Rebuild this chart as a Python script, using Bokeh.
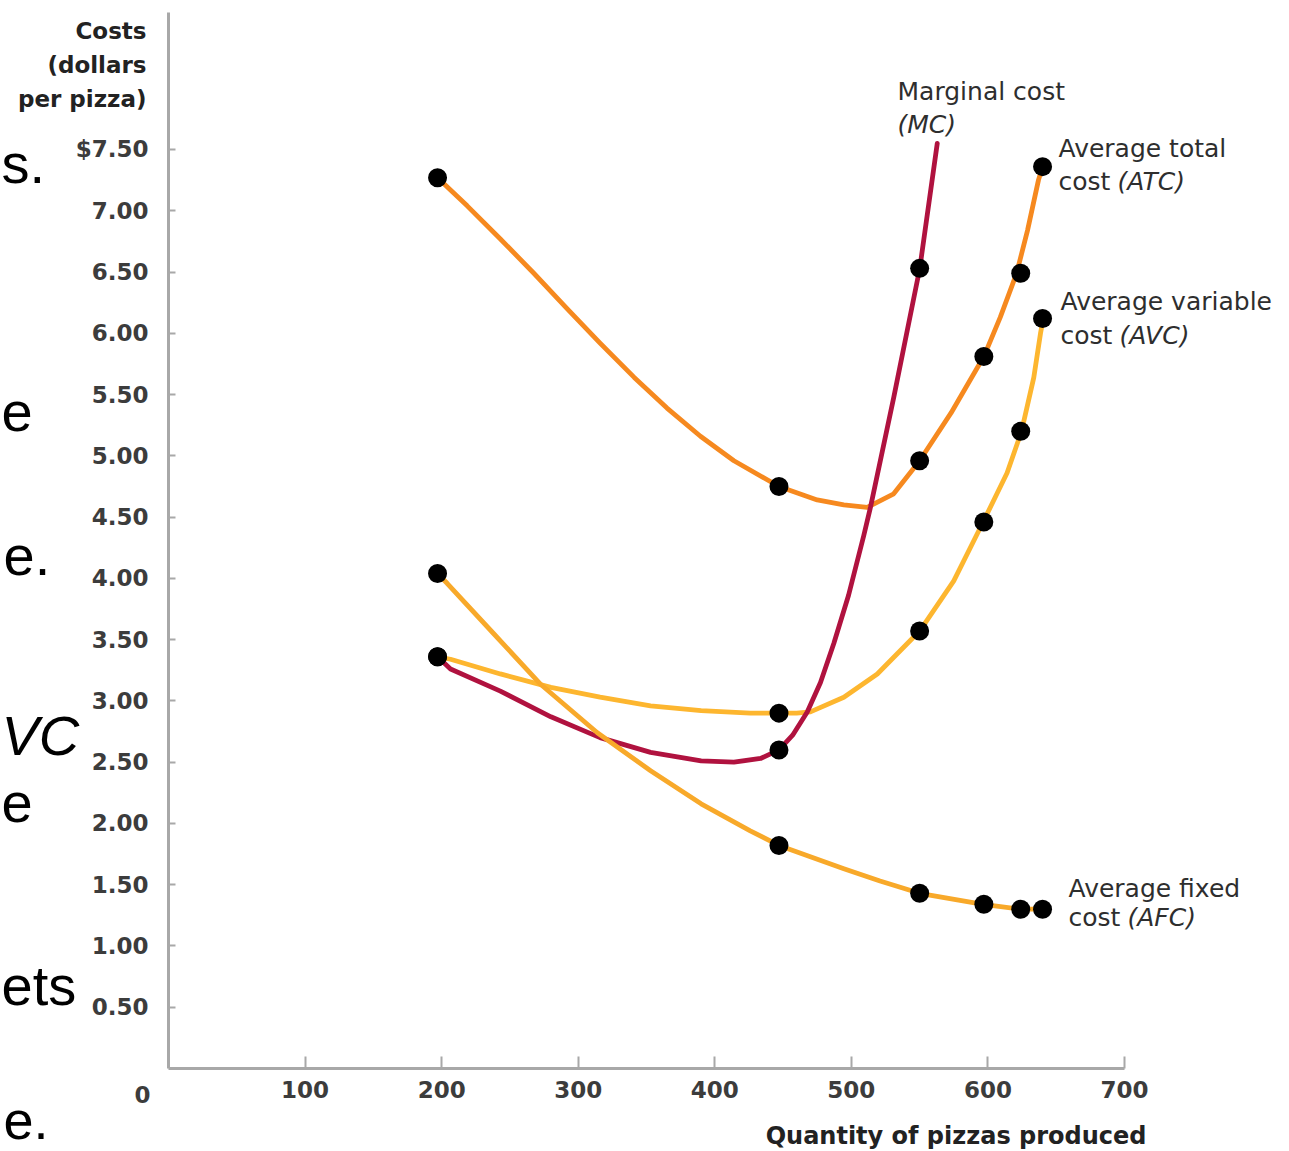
from bokeh.plotting import figure
from bokeh.models import Range1d, FixedTicker, Label, CustomJSTickFormatter, LinearAxis
from bokeh.embed import file_html
from bokeh.resources import INLINE

# ---------------- data ----------------
q_points = [197, 447, 550, 597, 624, 640]
atc_points = [7.27, 4.75, 4.96, 5.81, 6.49, 7.36]
avc_points = [3.36, 2.90, 3.57, 4.46, 5.20, 6.12]
afc_points = [4.04, 1.82, 1.43, 1.34, 1.30, 1.30]
mc_q_points = [197, 447, 550]
mc_points = [3.36, 2.60, 6.53]

atc_curve_q = [197, 218.7, 243, 267.5, 292, 316, 341, 365, 389.5, 414, 447, 475, 494.5, 511.6,
               531, 550, 573, 597, 609, 621, 629, 637, 640]
atc_curve = [7.27, 7.04, 6.77, 6.49, 6.20, 5.92, 5.64, 5.39, 5.16, 4.96, 4.75, 4.64, 4.60, 4.58,
             4.69, 4.96, 5.35, 5.81, 6.13, 6.49, 6.84, 7.25, 7.36]

avc_curve_q = [197, 206.5, 243, 280, 316, 353, 390, 426, 447, 460, 470, 494.5, 519, 550, 575, 596.5,
               614, 624.6, 633.6, 638.5, 640.5]
avc_curve = [3.36, 3.34, 3.22, 3.11, 3.03, 2.96, 2.92, 2.90, 2.90, 2.90, 2.91, 3.03, 3.22, 3.57, 3.98, 4.46,
             4.86, 5.20, 5.64, 6.00, 6.12]

mc_curve_q = [197, 206.5, 243, 280, 316, 353, 390, 414, 433.5, 447, 457, 467.7, 477.4, 487.2, 497.9,
              509.1, 514, 531.1, 550.1, 562.9]
mc_curve = [3.36, 3.26, 3.08, 2.87, 2.70, 2.58, 2.51, 2.50, 2.53, 2.60, 2.72, 2.91, 3.15, 3.47, 3.86,
            4.35, 4.58, 5.48, 6.53, 7.55]

afc_curve_q = [197, 204, 238, 272, 314, 353, 390, 426, 447, 494.5, 521, 550, 596.5, 624, 640.5]
afc_curve = [4.04, 3.96, 3.55, 3.14, 2.74, 2.43, 2.16, 1.94, 1.82, 1.63, 1.53, 1.43, 1.34, 1.30, 1.30]

x_ticks = [100, 200, 300, 400, 500, 600, 700]
y_ticks = [0.5, 1.0, 1.5, 2.0, 2.5, 3.0, 3.5, 4.0, 4.5, 5.0, 5.5, 6.0, 6.5, 7.0, 7.5]
X_AXIS_END = 700
Y_AXIS_END = 8.618

# ---------------- layout (pixels) ----------------
W, H = 1289, 1151
ORIGIN_PX, ORIGIN_PY = 168, 1068      # where the two axes meet
AXIS_RIGHT_PX, AXIS_TOP_PY = 1124, 12
PPX = (AXIS_RIGHT_PX - ORIGIN_PX) / X_AXIS_END
PPY = (ORIGIN_PY - AXIS_TOP_PY) / Y_AXIS_END


def dx(px):
    return (px - ORIGIN_PX) / PPX


def dy(py):
    return (ORIGIN_PY - py) / PPY


p = figure(width=W, height=H,
           x_range=Range1d(dx(0), dx(W)), y_range=Range1d(dy(H), dy(0)),
           x_axis_location=None, y_axis_location=None,
           output_backend="svg", toolbar_location=None,
           min_border_left=0, min_border_right=0, min_border_top=0, min_border_bottom=0)
p.outline_line_color = None
p.grid.visible = False
p.background_fill_color = "white"
p.border_fill_color = "white"

xaxis = LinearAxis(fixed_location=0, bounds=(0, X_AXIS_END), ticker=FixedTicker(ticks=x_ticks))
yaxis = LinearAxis(fixed_location=0, bounds=(0, Y_AXIS_END), ticker=FixedTicker(ticks=y_ticks),
                   formatter=CustomJSTickFormatter(code="return tick == 7.5 ? '$7.50' : tick.toFixed(2);"))
p.add_layout(xaxis, "below")
p.add_layout(yaxis, "left")

AX = "#a8a8a8"
for ax in (xaxis, yaxis):
    ax.axis_line_color = AX
    ax.axis_line_width = 3
    ax.major_tick_line_color = AX
    ax.major_tick_line_width = 2
    ax.major_tick_out = 0
    ax.minor_tick_line_color = None
    ax.major_label_text_font = "DejaVu Sans"
    ax.major_label_text_font_style = "bold"
    ax.major_label_text_font_size = "23px"
    ax.major_label_text_color = "#3c3c3c"
xaxis.major_tick_in = 12
xaxis.major_label_standoff = 12
yaxis.major_tick_in = 7
yaxis.major_label_standoff = 20

# ---------------- curves ----------------
LW = 4.8
p.line(atc_curve_q, atc_curve, line_color="#F6891F", line_width=LW, line_cap="round", line_join="round")
p.line(avc_curve_q, avc_curve, line_color="#FDB62F", line_width=LW, line_cap="round", line_join="round")
p.line(mc_curve_q, mc_curve, line_color="#B0123F", line_width=LW, line_cap="round", line_join="round")
p.line(afc_curve_q, afc_curve, line_color="#F8A92A", line_width=LW, line_cap="round", line_join="round")

for xs, ys in [(q_points, atc_points), (q_points, avc_points), (q_points, afc_points), (mc_q_points, mc_points)]:
    p.scatter(xs, ys, size=19, marker="circle", fill_color="black", line_color=None)


def label(px, py, text, size="25px", style="normal", align="left", font="DejaVu Sans",
          color="#2e2e2e", baseline="middle"):
    p.add_layout(Label(x=dx(px), y=dy(py), text=text, text_font=font, text_font_size=size,
                       text_font_style=style, text_align=align, text_baseline=baseline,
                       text_color=color))


# axis titles
label(146, 30, "Costs", size="23px", style="bold", align="right", color="#222222")
label(146, 64, "(dollars", size="23px", style="bold", align="right", color="#222222")
label(146, 98, "per pizza)", size="23px", style="bold", align="right", color="#222222")
label(1146, 1135, "Quantity of pizzas produced", size="24px", style="bold", align="right", color="#222222")
label(142, 1094, "0", size="23px", style="bold", align="center", color="#3c3c3c")

# curve annotations
label(897, 91, "Marginal cost")
label(897, 124, "(MC)", style="italic")
label(1058, 148, "Average total")
label(1058, 181, "cost")
label(1117, 181, "(ATC)", style="italic")
label(1060, 301, "Average variable")
label(1060, 335, "cost")
label(1119, 335, "(AVC)", style="italic")
label(1068, 888, "Average fixed")
label(1068, 917, "cost")
label(1127, 917, "(AFC)", style="italic")

# slide text fragments on the left edge
FR = "Liberation Sans"
FS = "56px"
label(1, 163, "s.", size=FS, font=FR, color="black", baseline="alphabetic")
label(1, 411, "e", size=FS, font=FR, color="black", baseline="alphabetic")
label(3, 555, "e.", size=FS, font=FR, color="black", baseline="alphabetic")
label(1, 735, "VC", size=FS, style="italic", font=FR, color="black", baseline="alphabetic")
label(1, 802, "e", size=FS, font=FR, color="black", baseline="alphabetic")
label(1, 985, "ets", size=FS, font=FR, color="black", baseline="alphabetic")
label(3, 1120, "e.", size="54px", font=FR, color="black", baseline="alphabetic")

open("out.html", "w").write(file_html(p, INLINE))
